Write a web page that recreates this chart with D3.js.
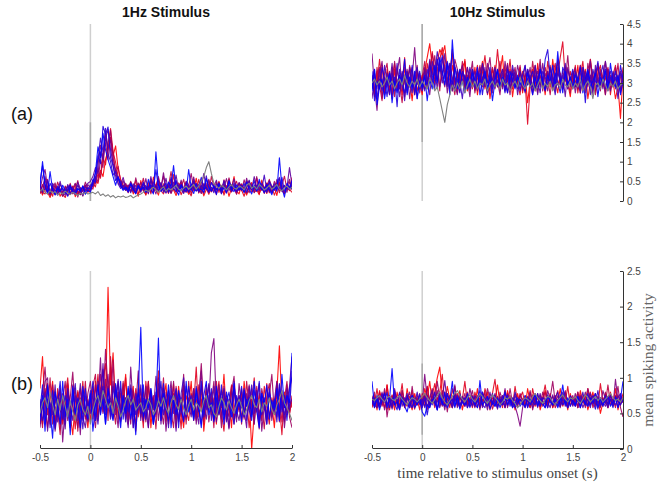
<!DOCTYPE html>
<html>
<body style="margin:0; background:#fff;">

<script src="https://d3js.org/d3.v7.min.js"></script>

<script>

const width = 657;
const height = 482;

const tStart = -0.5;
const tEnd = 2;
const xTicks = [-0.5, 0, 0.5, 1, 1.5, 2];
const yTicksTop = [0, 0.5, 1, 1.5, 2, 2.5, 3, 3.5, 4, 4.5];
const yTicksBottom = [0, 0.5, 1, 1.5, 2, 2.5];
const titles = ['1Hz Stimulus', '10Hz Stimulus'];
const rowLabels = ['(a)', '(b)'];
const xLabel = 'time relative to stimulus onset (s)';
const yLabel = 'mean spiking activity';

// 25 ms bins from -0.5 s to 2 s, one array per unit (red -> blue), plus the grey control trace

const a1Hz = [
  [.32,.15,.41,.22,.09,.28,.18,.35,.12,.24,.30,.14,.20,.38,.11,.26,.19,.33,.40,.22,
   .30,.38,.52,.45,.78,.62,1.05,1.30,1.62,1.15,1.40,.82,.55,.40,.33,.21,.45,.18,.30,.12,
   .52,.27,.16,.38,.22,.61,.30,.15,.42,.25,.33,.19,.55,.28,.14,.36,.48,.22,.31,.17,
   .40,.26,.58,.20,.34,.13,.29,.44,.23,.37,.16,.50,.27,.21,.39,.12,.33,.62,.25,.18,
   .41,.30,.15,.35,.47,.22,.28,.16,.53,.31,.19,.42,.24,.36,.14,.45,.29,.20,.38,.26,.60],
  [.45,.22,.18,.36,.27,.12,.40,.25,.31,.17,.09,.29,.35,.21,.44,.16,.26,.13,.30,.24,
   .28,.45,.36,.70,.58,1.10,.92,1.45,1.84,1.25,.98,.62,.44,.35,.27,.40,.24,.33,.52,.19,
   .28,.36,.15,.47,.30,.22,.39,.58,.26,.18,.34,.45,.21,.67,.29,.38,.16,.31,.49,.24,
   .13,.37,.28,.55,.20,.42,.31,.17,.35,.26,.48,.22,.39,.15,.30,.56,.24,.33,.19,.44,
   .28,.12,.36,.51,.23,.30,.40,.18,.34,.27,.46,.21,.37,.15,.32,.48,.26,.19,.41,.30,.22],
  [.18,.42,.26,.55,.14,.33,.22,.48,.30,.12,.38,.25,.45,.20,.31,.52,.16,.28,.40,.24,
   .36,.30,.55,.80,.62,1.20,1.48,1.05,1.62,1.25,.70,.88,.50,.36,.42,.28,.50,.33,.20,.44,
   .31,.58,.24,.40,.18,.49,.35,.62,.27,.44,.20,.38,.75,.30,.22,.46,.34,.55,.26,.39,
   .18,.47,.33,.25,.52,.29,.40,.21,.63,.35,.28,.45,.19,.54,.32,.41,.23,.37,.50,.26,
   .44,.30,.19,.48,.36,.25,.58,.31,.42,.22,.39,.55,.28,.34,.47,.21,.40,.63,.29,.35,.45],
  [.20,.38,.55,.24,.15,.33,.46,.19,.27,.12,.36,.22,.41,.18,.29,.10,.34,.25,.48,.31,
   .26,.40,.62,.48,1.05,.85,1.65,1.30,1.80,1.10,.75,.58,.40,.31,.45,.28,.36,.22,.59,.33,
   .47,.25,.38,.18,.52,.29,.41,.24,.35,.63,.27,.40,.19,.33,.51,.26,.44,.31,.22,.38,
   .70,.29,.45,.23,.36,.18,.42,.55,.27,.33,.20,.48,.31,.39,.24,.59,.28,.35,.17,.43,
   .26,.54,.32,.21,.40,.29,.62,.25,.37,.19,.44,.30,.23,.50,.34,.27,.41,.18,.36,.55,.28],
  [.28,.60,.80,.35,.22,.41,.17,.30,.25,.14,.27,.39,.19,.32,.45,.23,.16,.37,.26,.42,
   .33,.52,.45,.90,1.42,1.10,1.76,1.35,1.55,.90,.64,.47,.36,.52,.30,.41,.26,.38,.22,.46,
   .35,.29,.57,.24,.40,.33,.18,.44,.31,.72,.28,.39,.21,.48,.35,.26,.53,.30,.42,.23,
   .37,.61,.27,.33,.19,.45,.30,.52,.24,.38,.29,.46,.20,.35,.57,.26,.41,.32,.22,.47,
   .34,.25,.58,.30,.43,.21,.36,.49,.27,.32,.44,.23,.38,.29,.55,.31,.26,.40,.22,.48,.35],
  [.40,.20,.62,.30,.18,.45,.35,.25,.50,.22,.15,.42,.28,.36,.20,.48,.32,.24,.38,.45,
   .50,.62,.85,.70,1.25,1.05,1.58,1.82,1.30,.95,.80,.55,.42,.60,.35,.30,.48,.26,.40,.33,
   .22,.45,.38,.29,.62,.34,.27,.52,.40,.31,.58,.24,.43,.35,.66,.28,.37,.22,.50,.41,
   .30,.55,.26,.43,.35,.70,.32,.24,.47,.38,.53,.27,.36,.44,.22,.40,.33,.56,.29,.46,
   .37,.24,.50,.41,.29,.62,.35,.27,.45,.33,.25,.52,.38,.30,.44,.60,.28,.39,.34,.85,.40],
  [.38,.25,.30,.52,.20,.34,.27,.15,.43,.29,.22,.36,.18,.31,.24,.40,.28,.13,.35,.30,
   .41,.38,.72,1.05,1.60,1.25,1.85,1.20,1.00,.66,.75,.43,.32,.40,.27,.35,.21,.44,.30,.38,
   .25,.42,.33,.20,.55,.31,.38,.26,.47,.22,.36,.29,.60,.33,.24,.41,.30,.19,.45,.34,
   .27,.50,.36,.22,.39,.31,.64,.28,.35,.21,.43,.33,.26,.52,.30,.38,.24,.46,.31,.27,
   .40,.22,.35,.53,.29,.37,.24,.42,.31,.66,.27,.35,.20,.44,.30,.58,.25,.38,.33,.29,.42],
  [.50,.90,.35,.22,.45,.30,.18,.38,.26,.33,.20,.29,.41,.24,.17,.32,.27,.36,.21,.34,
   .30,.55,.48,1.15,.95,1.90,1.70,1.88,1.10,.90,.52,.60,.48,.30,.36,.25,.42,.33,.20,.37,
   .29,.48,.22,.35,.41,.27,.80,.33,.25,.38,.45,.21,.36,.30,.52,.24,.39,.28,.34,.22,
   .43,.31,.25,.37,.60,.28,.35,.22,.47,.33,.29,.41,.18,.36,.26,.50,.31,.39,.24,.34,
   .28,.45,.22,.37,.31,.52,.26,.40,.29,.35,.21,.48,.33,.27,.42,.30,.60,.25,.36,.38,.31],
  [.35,1.00,.42,.18,.75,.28,.15,.33,.22,.40,.27,.12,.36,.25,.19,.31,.24,.39,.17,.28,
   .22,.48,.72,1.38,1.10,1.72,1.30,1.05,.85,.62,.40,.62,.38,.27,.34,.22,.45,.30,.18,.40,
   .28,.35,.22,.55,.30,.18,1.25,.40,.25,.33,.21,.48,.36,.90,.29,.15,.42,.30,.24,.80,
   .33,.19,.44,.27,.31,.22,.57,.34,.25,.39,.16,.45,.28,.36,.20,.52,.31,.24,.41,.29,
   .35,.22,.48,.30,.18,.40,.27,.55,.33,.21,.42,.29,.16,.38,.25,1.10,.34,.10,.45,.30,.52]
];
const a1HzControl = [
  .25,.30,.22,.18,.26,.20,.24,.15,.22,.18,.25,.20,.16,.22,.19,.14,.20,.17,.22,.18,
  .20,.22,.18,.24,.14,.18,.12,.16,.10,.14,.08,.12,.10,.13,.09,.11,.14,.08,.12,.15,
  .18,.22,.28,.24,.30,.35,.28,.22,.30,.36,.25,.32,.28,.34,.40,.30,.26,.33,.38,.30,
  .35,.42,.30,.38,.50,.62,.85,1.00,.70,.45,.38,.32,.40,.35,.28,.36,.42,.33,.30,.38,
  .35,.28,.40,.45,.32,.38,.30,.42,.36,.28,.33,.40,.30,.35,.42,.30,.26,.34,.38,.30,.35
];

const a10Hz = [
  [3.10,2.65,3.30,2.90,3.45,2.75,3.05,3.20,2.60,3.35,2.85,3.15,2.70,3.40,2.95,3.10,2.55,3.25,2.80,3.05,
   2.70,3.30,3.65,4.00,3.40,2.95,3.55,3.85,3.70,3.95,3.30,2.85,3.45,3.10,2.75,3.35,3.00,3.60,2.80,3.20,
   2.95,3.40,2.70,3.15,3.55,2.85,3.30,2.60,3.10,3.45,2.90,3.25,3.70,2.80,3.05,3.35,2.65,3.15,2.95,3.40,
   2.75,3.20,2.50,3.05,3.35,2.80,3.50,2.95,3.15,2.70,3.30,2.90,3.60,3.05,2.75,3.25,2.85,3.40,3.00,2.65,
   3.20,2.90,3.45,2.75,3.10,3.35,2.60,3.05,3.25,2.80,3.50,2.95,3.15,2.70,3.30,2.85,3.05,2.60,2.90,2.10,3.20],
  [2.85,3.25,2.95,3.60,3.05,2.75,3.35,2.90,3.15,3.50,2.80,3.20,3.00,3.65,2.90,3.10,3.40,2.70,3.30,2.95,
   3.20,2.85,3.50,3.15,3.80,3.35,3.05,3.60,3.90,3.40,3.00,3.25,3.75,2.95,3.20,2.80,3.40,3.55,3.05,3.30,
   2.85,3.15,3.45,2.95,3.25,3.70,3.05,2.80,3.35,3.10,3.85,3.20,2.90,3.40,3.05,3.60,2.85,3.25,3.00,2.70,
   3.30,3.05,1.95,2.90,3.20,3.45,2.95,3.35,3.10,2.80,3.55,3.15,2.95,3.40,3.20,3.65,4.05,3.10,2.85,3.30,
   3.00,3.45,2.75,3.20,3.55,2.90,3.15,3.60,3.00,2.80,3.25,3.45,2.95,3.10,3.35,2.70,3.20,3.45,2.85,3.15,3.30],
  [3.05,2.70,3.40,2.95,2.55,3.25,3.50,2.80,3.15,2.65,3.35,3.00,2.50,3.20,2.85,3.45,3.10,2.75,3.30,2.90,
   3.15,3.55,2.90,3.35,3.75,3.10,3.40,2.80,3.65,3.25,2.95,3.50,3.05,2.70,3.30,3.00,3.55,2.85,3.20,2.95,
   3.35,2.80,3.10,3.45,2.90,3.20,2.70,3.05,3.40,2.85,3.15,3.55,2.95,3.25,2.75,3.10,3.35,2.90,3.05,3.45,
   2.80,3.15,3.30,2.90,3.55,3.05,2.75,3.20,2.95,3.40,3.10,2.70,3.25,3.50,2.95,3.15,2.85,3.35,3.05,2.75,
   3.30,3.05,2.85,3.45,3.00,3.20,2.90,3.60,3.10,2.70,3.05,3.35,2.90,3.15,3.40,2.95,3.25,3.00,3.50,2.80,3.40],
  [3.20,2.80,3.05,3.40,2.60,3.15,2.95,3.30,2.70,3.55,3.00,2.85,3.25,2.65,3.10,3.35,2.90,3.05,3.45,2.75,
   3.10,3.35,2.85,3.55,3.25,3.70,3.05,3.40,3.15,2.90,3.50,3.20,2.80,3.60,3.35,3.00,3.25,2.85,3.40,3.10,
   3.55,2.75,3.25,3.00,3.45,2.90,3.30,3.65,2.95,3.20,3.05,2.70,3.35,3.15,3.50,2.85,3.10,3.40,2.90,3.25,
   3.05,3.45,2.95,3.20,2.70,3.35,3.10,3.60,2.80,3.25,3.05,3.45,2.85,3.15,3.55,2.95,3.30,3.05,3.70,2.90,
   3.20,3.40,2.85,3.05,3.30,2.75,3.50,3.15,2.95,3.35,3.05,2.80,3.25,3.55,3.00,3.20,2.90,3.40,3.10,2.75,3.05],
  [3.75,2.90,2.30,3.20,3.55,2.85,3.10,2.70,3.40,2.95,3.25,3.65,2.80,3.05,3.35,2.60,3.15,3.90,2.95,3.25,
   2.85,3.40,3.10,2.70,3.30,3.05,3.60,2.90,3.20,3.45,2.75,3.15,3.85,3.00,2.70,3.25,3.45,2.95,3.10,2.65,
   3.30,3.05,2.80,3.40,3.15,2.90,3.50,3.20,2.75,3.35,3.00,3.25,2.85,3.55,3.10,2.70,3.30,2.95,3.45,3.15,
   2.85,3.25,3.05,3.40,2.75,3.10,3.30,2.90,3.50,3.05,2.80,3.35,3.15,2.95,3.60,3.20,2.85,3.10,3.40,2.95,
   3.25,2.75,3.15,3.45,2.90,3.30,3.05,3.55,2.80,3.20,3.40,2.95,3.15,2.70,3.35,3.05,3.25,2.85,3.10,3.30,2.95],
  [2.60,3.15,2.85,3.35,3.00,2.70,3.25,2.95,3.50,2.80,3.10,2.65,3.30,3.05,2.75,3.40,2.95,3.15,2.60,3.20,
   2.95,3.30,3.05,3.60,3.00,3.35,2.85,3.50,3.20,3.75,3.05,3.30,2.80,3.45,3.10,2.90,3.25,3.05,3.40,2.80,
   3.05,3.30,2.85,3.15,3.00,3.40,2.75,3.20,3.05,2.90,3.35,2.80,3.25,3.00,3.45,2.85,3.10,3.30,2.70,3.15,
   3.00,2.75,3.35,3.10,2.90,3.25,2.70,3.45,3.05,2.85,3.30,3.00,3.15,2.80,3.40,2.95,3.20,2.65,3.35,3.10,
   2.90,3.25,3.05,2.75,3.40,3.15,2.95,3.20,2.70,3.45,3.00,3.25,2.85,3.55,3.05,2.80,3.30,2.95,3.15,2.85,3.25],
  [2.95,3.35,2.60,3.10,2.80,3.45,3.00,2.70,3.25,2.90,3.50,2.85,3.15,2.55,3.30,3.05,2.75,3.20,3.40,2.85,
   3.05,2.80,3.35,3.00,3.55,3.20,3.80,3.45,3.00,3.25,2.90,3.50,3.15,2.80,3.35,3.05,2.60,3.20,2.95,3.40,
   3.10,2.85,3.30,2.95,3.50,3.15,2.75,3.25,3.05,3.40,2.90,3.15,3.35,2.80,3.20,2.95,3.45,3.10,2.85,3.30,
   3.05,2.80,3.35,3.10,2.90,3.45,3.05,2.75,3.30,3.15,2.95,3.40,3.05,2.70,3.25,3.10,2.95,3.50,2.85,3.15,
   2.95,3.30,3.10,2.80,3.40,3.00,3.25,2.70,3.35,3.05,2.90,3.20,3.45,2.85,3.10,3.30,2.95,3.15,2.60,3.25,3.05],
  [3.30,2.55,3.05,2.85,3.40,3.10,2.65,3.25,2.95,3.15,2.40,3.35,3.00,2.75,3.20,2.90,3.45,2.70,3.05,3.30,
   2.80,3.15,2.95,3.45,3.20,2.85,3.60,3.30,3.70,3.10,3.55,3.25,2.95,3.40,3.05,2.75,3.30,3.15,2.85,3.00,
   3.35,3.05,2.90,3.25,2.70,3.20,3.00,3.40,2.85,3.15,3.30,2.95,3.10,2.75,3.35,3.05,3.25,2.90,3.15,2.80,
   3.20,3.45,2.95,3.10,3.30,2.85,3.05,3.35,2.95,3.60,3.85,3.15,2.90,3.25,3.00,2.75,3.40,3.20,2.95,3.10,
   3.35,2.90,3.15,3.00,3.25,2.50,3.30,3.05,2.85,3.20,3.55,2.95,3.10,3.35,2.80,3.15,3.00,3.30,2.85,3.45,3.10],
  [2.80,3.35,2.45,2.90,3.10,2.60,3.00,3.25,2.50,3.05,2.75,3.20,2.95,3.60,2.70,3.15,2.85,3.30,2.60,3.05,
   2.90,3.20,2.55,3.10,2.85,3.45,3.00,3.65,3.30,2.95,3.50,2.70,4.10,3.20,2.85,3.35,3.05,2.75,3.15,2.90,
   3.25,2.95,3.40,2.70,3.10,3.30,2.85,3.15,2.55,3.05,3.35,2.90,3.15,3.00,2.75,3.30,3.05,2.85,3.20,2.95,
   3.10,2.80,3.25,3.00,2.70,3.15,2.90,3.35,3.05,2.80,3.20,3.00,3.45,2.90,3.80,3.10,2.75,3.30,2.95,3.15,
   2.85,3.20,3.00,3.40,2.75,3.10,3.35,2.90,3.05,3.25,2.65,3.15,3.00,3.30,2.85,3.50,3.05,2.90,3.20,2.70,3.05]
];
const a10HzControl = [
  3.00,3.10,2.95,3.05,2.90,3.00,3.15,2.95,3.05,2.85,3.00,3.10,2.95,3.20,3.00,2.90,3.05,2.95,3.10,2.90,
  3.05,2.95,2.85,3.10,3.00,2.80,2.90,2.60,2.30,2.00,2.45,2.70,2.95,2.80,3.00,2.85,3.05,2.75,2.95,3.10,
  2.90,3.05,2.85,3.00,2.95,3.10,2.80,2.95,3.05,2.90,3.00,2.85,3.10,2.95,3.00,2.80,2.95,3.05,2.90,3.15,
  2.95,2.85,3.05,2.90,3.00,2.80,2.95,3.10,2.85,3.00,2.90,3.05,2.80,2.95,3.00,2.85,3.10,2.95,2.90,3.05,
  2.85,3.00,2.90,3.10,2.80,2.95,3.05,2.90,2.60,2.95,3.00,2.85,3.10,2.95,2.80,3.00,2.90,3.05,2.85,2.95,3.00
];

const b1Hz = [
  [.85,1.30,.55,.30,.70,.95,.40,.62,.85,.35,.58,.90,.48,.20,.66,.80,.42,.75,.55,.30,
   .72,.50,.95,.40,.85,1.10,.65,2.27,.90,1.35,.55,.80,.45,.70,1.05,.38,.62,.88,.25,.70,
   .45,.80,.58,.95,.30,.72,.50,.85,.40,.68,.92,.35,.60,.78,.42,.88,.55,.30,.75,.62,
   .95,.40,.70,.55,.85,.25,.62,.90,.48,.72,.35,.80,.58,1.05,.45,.68,.30,.85,.52,.75,
   .40,.95,.60,.75,.00,.50,.82,.35,.70,.55,.92,.45,.65,.30,.80,1.45,.60,.38,.75,.50,.68],
  [.60,.35,.78,.92,.45,.68,.30,.85,.55,.40,.75,1.00,.50,.65,.28,.82,.58,.95,.42,.70,
   .38,.88,.62,1.05,.50,.95,1.20,.75,1.15,.55,.90,.42,.78,.60,1.00,.35,.70,.52,.85,.45,
   .72,.30,.95,.58,.80,.42,.68,1.10,.50,.85,.38,.75,.60,.92,.45,.70,.28,.88,.55,.40,
   .78,.62,1.15,.45,.70,.35,.90,.58,.80,.42,.68,.95,.50,.25,.75,.60,.88,.40,.72,.55,
   .85,.45,.70,.30,.65,1.00,.52,.78,.40,.88,.60,.35,.72,.55,.95,.62,.20,.80,.48,.70,.58],
  [.62,.30,.85,.48,1.00,.35,.70,.55,.20,.78,.45,.92,.38,.65,.85,.25,.72,.50,.95,.40,
   .60,.88,1.05,.45,.75,.52,.98,.40,1.30,.62,.35,.80,.55,.95,.42,.68,.85,.30,.72,.50,
   .85,.38,.62,.95,.45,.70,.28,.82,.58,1.00,.40,.75,.52,.30,.88,.62,.45,.78,.35,.95,
   .50,.70,.42,.90,.62,.38,.85,.55,.72,.30,.95,.48,.68,.82,.40,.60,.90,.35,.72,.52,
   .80,.42,.95,.58,.70,.35,.88,.50,.62,.28,.75,.92,.45,.68,.55,.82,.38,.70,.95,.48,.75],
  [.45,.80,1.15,.62,.35,.90,.52,.75,.28,.68,.95,.40,.72,1.08,.50,.30,.85,.60,.45,.78,
   .95,.55,.30,.70,1.05,.62,1.40,.85,.58,1.25,.48,.75,.40,.92,.55,.70,.35,.82,.60,1.10,
   .50,.68,.38,.88,.62,.75,.45,1.00,.58,.35,.80,.65,.48,.95,.30,.72,.55,1.05,.42,.68,
   .60,.85,.40,.72,1.20,.55,.82,.38,.65,.95,.50,.75,.30,.88,.58,.45,.80,1.02,.52,.70,
   .35,.78,.62,.90,.48,.70,.55,.28,.85,.65,.42,.75,1.05,.50,.68,.38,.82,.58,.90,.45,.30],
  [.30,.65,.95,1.00,.40,.72,.25,.55,.85,.10,.60,.78,.35,.90,.48,.70,.20,.82,.55,.38,
   .75,.42,.90,.60,1.28,.50,.80,1.05,.45,.95,.62,.30,.85,.55,.72,.40,1.15,.58,.35,.80,
   .65,.48,.88,.30,.75,.55,1.02,.40,.70,.85,.25,.65,.95,.50,.78,.38,.60,.90,.45,.72,
   .55,.85,.35,.70,1.10,.48,.80,.62,1.35,1.55,.58,.90,.42,.75,.55,.28,.82,.65,.38,.92,
   .60,.45,.78,.55,.85,.35,.70,.92,.25,.62,.50,.80,.40,.68,.95,.52,.75,.30,.65,.88,1.30],
  [.35,.58,.80,.25,.65,.48,.90,.38,.72,.55,.28,.82,.62,.40,.75,.55,.92,.45,.30,.68,
   .50,.78,.40,.95,.62,1.20,.48,.88,.70,.42,.65,.98,.38,.75,.55,.30,.90,.62,.48,.85,
   .40,.72,.55,.30,.85,.62,.48,.92,.35,.70,.58,.82,.42,.68,.25,.78,.55,.40,.88,.62,
   .45,.78,.55,.35,.90,.62,.42,.75,.52,.88,.38,.65,.82,.48,.70,.30,.62,.85,.55,.40,
   .72,.55,.30,.88,.48,.65,.82,.40,.70,.58,.35,.78,.62,.50,.92,.45,.68,.40,.85,.60,.70],
  [.70,.40,.55,.88,.30,.62,.80,.45,.72,.58,.35,.85,.50,.68,.92,.40,.60,.28,.75,.55,
   .82,.48,.65,.35,.78,1.12,.55,.70,.42,.88,.60,.95,.50,.72,.38,.85,.62,.45,.78,.55,
   .90,.40,.68,.55,.82,.35,.75,.60,.95,.48,.70,.30,.85,.58,.65,.42,.78,1.00,.50,.62,
   .75,.45,.88,.60,.35,.72,.55,.92,.40,.68,.80,.48,.62,.85,.38,.70,.55,.95,.45,.75,
   .58,.82,.40,.65,.90,.50,.72,.35,.78,.60,.45,.85,.55,.70,.38,.92,.62,.48,.75,.55,1.10],
  [.55,.90,.35,.70,.50,.82,.28,.65,.95,.42,.75,.58,.30,.88,.48,.72,.60,.40,.85,.52,
   .68,.95,.40,.75,.55,.88,.35,.70,.62,.48,.82,.58,.95,.42,.72,.52,.85,.30,.65,.78,
   .50,.90,.42,.70,.58,.35,.80,.62,.48,.92,.55,.40,.75,.65,.85,.30,.72,.58,.45,.88,
   .62,.40,.78,.52,.95,.45,.70,.60,.85,.38,.72,.50,.90,.42,.65,.80,.55,.35,.75,.60,
   .88,.45,.70,.55,.40,.82,.62,.95,.48,.72,.35,.80,.58,.68,.45,.90,.52,.75,.40,.85,1.00],
  [.40,.75,.25,.90,.55,.15,.80,.60,.35,.95,.45,.70,.20,.85,.50,.65,.30,.88,.58,.42,
   .78,.25,.62,.90,.48,.70,.35,.85,.55,.40,.92,.60,.30,.75,.50,.88,.42,.65,.20,.80,
   1.71,.45,.70,.58,.85,.35,.62,1.56,.40,.78,.55,.90,.30,.68,.48,.82,.60,.38,.95,.52,
   .70,.42,.85,.58,.30,.75,.95,.48,.65,.40,.88,.55,.72,.35,.80,.62,.45,.92,.50,.68,
   .38,.85,.60,.72,.45,.95,.55,.30,.78,.62,.90,.42,.68,.55,.85,.40,1.05,.58,.75,.65,1.35]
];
const b1HzControl = [
  .50,.65,.72,.58,.80,.62,.48,.70,.55,.75,.60,.45,.68,.52,.40,.62,.70,.55,.48,.60,
  .35,.55,.68,.75,.60,.82,.70,.58,.65,.50,.72,.60,.45,.55,.68,.75,.62,.70,.55,.60,
  .65,.52,.58,.70,.62,.48,.55,.68,.60,.72,.58,.50,.65,.75,.62,.55,.70,.58,.48,.62,
  .70,.55,.65,.60,.52,.68,.75,.58,.62,.50,.45,.60,.72,.65,.55,.68,.58,.50,.62,.70,
  .60,.48,.55,.68,.75,.62,.58,.70,.52,.65,.60,.72,.55,.48,.62,.70,.82,.65,.58,.50,.40
];

const b10Hz = [
  [.60,.75,.55,.82,.68,.58,.90,.65,.72,.55,.80,.62,.70,.58,.85,.66,.55,.78,.62,.70,
   .58,.85,.72,.95,.65,.80,1.00,1.15,.75,.62,.88,.70,.58,.78,.65,.82,.55,.72,.68,.60,
   .75,.62,.85,.58,.70,.65,.80,.55,.72,.68,.90,.62,.75,.58,.82,.66,.70,.55,.78,.62,
   .70,.58,.85,.65,.72,.60,.78,.55,.68,.82,.62,.75,.58,.70,.65,.85,.60,.72,.55,.78,
   .62,.70,.58,.82,.65,.75,.55,.68,.80,.60,.72,.50,.65,.78,.58,.70,.62,.85,.55,.72,.65],
  [.70,.62,.85,.58,.75,.66,.90,.55,.72,.80,.60,.68,.92,.58,.75,.65,.82,.60,.70,.55,
   .78,.65,.88,.60,.75,.92,.68,.80,1.05,.62,.72,.58,.85,.66,.78,.60,.70,.95,.64,.72,
   .58,.80,.66,.72,.60,.85,.70,.62,.78,.98,.65,.72,.58,.82,.68,.75,.60,.88,.65,.72,
   .80,.62,.70,.58,.85,.66,.75,.60,.72,.90,.64,.78,.58,.70,.82,.62,.75,.66,.88,.60,
   .72,.65,.80,.58,.75,.68,.85,.62,.70,.78,.60,.92,.66,.72,.58,.80,.64,.75,.68,.62,.78],
  [.58,.70,.64,.80,.60,.72,.55,.68,.76,.62,.70,.58,.82,.66,.60,.74,.68,.56,.72,.64,
   .70,.60,.88,.66,.74,.58,.72,.64,.82,.60,.70,.66,.58,.76,.62,.72,.68,.60,.80,.66,
   .62,.74,.58,.70,.66,.80,.60,.72,.56,.68,.74,.62,.70,.58,.78,.64,.70,.60,.66,.76,
   .70,.62,.68,.58,.76,.64,.72,.60,.70,.80,.62,.68,.74,.58,.66,.72,.62,.78,.60,.70,
   .64,.72,.58,.76,.66,.62,.70,.80,.58,.68,.74,.60,.72,.64,.90,.62,.70,.58,.76,.66,.72],
  [.65,.80,.58,.72,.62,.85,.45,.70,.60,.78,.66,.55,.82,.64,.72,.58,.88,.62,.75,.68,
   .62,.78,.55,.72,.85,.66,.95,.70,.60,.80,.52,.75,.66,.88,.60,.72,.65,.78,.58,.70,
   .82,.60,.72,.55,.78,.65,.85,.70,.62,.75,.58,.80,.68,.72,.60,.85,.64,.70,.58,.78,
   .65,.72,.60,.82,.55,.70,.75,.62,.80,.68,.58,.72,.95,.66,.75,.60,.70,.82,.58,.68,
   .75,.62,.80,.66,.72,.58,.85,.70,.62,.78,.66,.72,.60,.80,.68,.75,.62,.70,.88,.58,.45],
  [.75,.58,.70,.62,.80,.55,.72,.68,.60,.85,.65,.58,.75,.62,.70,.80,.58,.72,.66,.78,
   .62,1.05,.70,.58,.75,.65,.82,.60,.72,.55,.78,.68,.62,.90,.58,.75,.66,.70,.62,.85,
   .68,.58,.75,.62,.80,.70,.55,.72,.66,.78,.60,.70,.62,.85,.58,.72,.65,.60,.48,.32,
   .58,.72,.66,.80,.62,.70,.58,.75,.68,.62,.82,.70,.60,.75,.66,.58,.72,.80,.64,.70,
   .62,.78,.58,.72,.66,.80,.60,.70,.75,.62,.68,.58,.82,.70,.64,.75,.60,.98,.68,.62,.72],
  [.72,.62,.58,.75,.68,.80,.62,.70,.56,.74,.66,.80,.60,.72,.64,.58,.76,.68,.62,.70,
   .66,.74,.60,.70,.82,.62,.68,.58,.72,.96,.64,.70,.60,.78,.66,.58,.74,.62,.70,.66,
   .72,.60,.68,.76,.58,.70,.64,.80,.62,.68,.56,.74,.66,.60,.72,.68,.58,.76,.62,.70,
   .66,.60,.74,.68,.58,.72,.64,.78,.60,.70,.66,.58,.76,.62,.70,.64,.80,.60,.68,.72,
   .60,.70,.66,.74,.58,.68,.62,.78,.64,.70,.56,.72,.66,.60,.74,.68,.62,.70,.58,.76,.66],
  [.62,.72,.66,.58,.78,.70,.62,.75,.58,.82,.68,.60,.72,.66,.78,.58,.70,.64,.80,.62,
   .70,.58,.75,.62,.68,.72,.55,.80,.65,.60,.75,.70,.58,.72,.62,.78,.66,.60,.72,.68,
   .60,.75,.68,.82,.62,.58,.72,.66,.78,.60,.70,.64,.75,.58,.72,.68,.62,.80,.66,.70,
   .62,.75,.58,.70,.66,.78,.60,.72,.64,.58,.76,.68,.62,.72,.80,.60,.70,.65,.58,.75,
   .68,.60,.72,.66,.80,.62,.70,.58,.75,.64,.82,.60,.70,.66,.58,.75,.68,.62,.72,.78,.65],
  [.68,.58,.75,.62,.70,.66,.80,.58,.72,.64,.55,.78,.68,.60,.74,.66,.58,.70,.62,.76,
   .58,.72,.48,.68,.62,.80,.55,.72,.66,.60,.78,.64,.70,.58,.75,.62,.68,.72,.58,.66,
   .74,.62,.70,.58,.80,.66,.60,.72,.64,.75,.58,.70,.62,.68,.76,.60,.72,.58,.66,.70,
   .62,.75,.58,.70,.66,.62,.78,.60,.72,.68,.58,.74,.64,.70,.60,.76,.62,.68,.58,.72,
   .66,.60,.74,.58,.70,.64,.78,.62,.68,.56,.72,.66,.60,.75,.62,.70,.58,.74,.66,.62,.70],
  [.95,.60,.72,.55,.68,.78,.58,.70,1.13,.62,.66,.55,.72,.60,.52,.68,.75,.58,.64,.70,
   .52,.46,.62,.58,.70,.66,.55,.74,.62,.80,.58,.68,.95,.60,.72,.56,.66,.62,.78,.58,
   .70,.64,.58,.96,.62,.68,.74,.56,.66,.60,.72,.58,.68,.80,.62,.70,.58,.64,.72,.60,
   .66,.58,.72,.62,.68,.76,.60,.70,.64,.58,.74,.66,.62,.70,.58,.68,.90,.62,.72,.60,
   .68,.62,.74,.58,.70,.64,.60,.72,.66,.78,.58,.70,.62,.68,.74,.60,.66,.72,.58,.70,.95]
];
const b10HzControl = [
  .70,.68,.72,.75,.70,.66,.72,.74,.70,.68,.72,.75,.70,.66,.62,.68,.72,.70,.66,.70,
  .74,.78,.72,.68,.64,.70,.75,.80,.72,.66,.62,.68,.74,.78,.82,.75,.70,.66,.72,.76,
  .70,.66,.72,.78,.74,.68,.64,.70,.76,.72,.68,.62,.66,.72,.70,.74,.68,.64,.58,.62,
  .68,.72,.70,.66,.74,.78,.72,.68,.64,.70,.74,.72,.66,.62,.68,.72,.76,.70,.66,.72,
  .70,.74,.68,.64,.70,.76,.72,.66,.70,.74,.68,.72,.66,.70,.74,.78,.72,.68,.70,.66,.72
];

// ---------------------------------------------------------------

const svg = d3.select('body')
              .append('svg')
              .attr('width', width)
              .attr('height', height)
              .style('font-family', '"Liberation Sans", Arial, Helvetica, sans-serif');

const cols = [{ x0: 40, x1: 292 }, { x0: 372, x1: 623 }];
const rows = [
  { top: 24, bottom: 201, ymax: 4.5, ticks: yTicksTop },
  { top: 271, bottom: 449, ymax: 2.5, ticks: yTicksBottom }
];

const panels = [
  { r: 0, c: 0, units: a1Hz,  control: a1HzControl,  dark: [0, 2] },
  { r: 0, c: 1, units: a10Hz, control: a10HzControl, dark: [1.5, 4.5] },
  { r: 1, c: 0, units: b1Hz,  control: b1HzControl,  dark: null },
  { r: 1, c: 1, units: b10Hz, control: b10HzControl, dark: [0.2, 1.2] }
];

const unitColors = d3.quantize(d3.interpolateRgb('red', 'blue'), a1Hz.length);

panels.forEach((p, k) => {
  const col = cols[p.c];
  const row = rows[p.r];

  const x = d3.scaleLinear().domain([tStart, tEnd]).range([col.x0, col.x1]);
  const y = d3.scaleLinear().domain([0, row.ymax]).range([row.bottom, row.top]);

  const g = svg.append('g');

  const clipId = 'clip' + k;
  svg.append('clipPath').attr('id', clipId)
    .append('rect')
      .attr('x', col.x0).attr('y', row.top)
      .attr('width', col.x1 - col.x0).attr('height', row.bottom - row.top);

  // stimulus onset
  g.append('line')
    .attr('x1', x(0)).attr('x2', x(0))
    .attr('y1', y(0)).attr('y2', y(row.ymax))
    .attr('stroke', '#cfcfcf')
    .attr('stroke-width', 1.5);
  if (p.dark) {
    g.append('line')
      .attr('x1', x(0)).attr('x2', x(0))
      .attr('y1', y(p.dark[0])).attr('y2', y(p.dark[1]))
      .attr('stroke', '#aaaaaa')
      .attr('stroke-width', 1.5);
  }

  const lineFor = vals => d3.line()
    .x((d, i) => x(tStart + (tEnd - tStart) * i / (vals.length - 1)))
    .y(d => y(d))(vals);

  const lines = g.append('g').attr('clip-path', `url(#${clipId})`);

  lines.selectAll('path.unit')
    .data(p.units)
    .enter()
    .append('path')
      .attr('class', 'unit')
      .attr('d', lineFor)
      .attr('fill', 'none')
      .attr('stroke', (d, i) => unitColors[i])
      .attr('stroke-width', 1.1)
      .attr('stroke-opacity', 0.9)
      .attr('stroke-linejoin', 'round');

  lines.append('path')
    .attr('d', lineFor(p.control))
    .attr('fill', 'none')
    .attr('stroke', '#808080')
    .attr('stroke-width', 1.1)
    .attr('stroke-linejoin', 'round');

  // right-hand y axis
  if (p.c === 1) {
    const ax = svg.append('g')
      .attr('transform', `translate(${col.x1},0)`)
      .call(d3.axisRight(y).tickValues(row.ticks).tickSizeInner(-3).tickSizeOuter(0)
              .tickPadding(4).tickFormat(d => String(d)));
    ax.select('.domain').attr('stroke', '#333');
    ax.selectAll('.tick line').attr('stroke', '#333');
    ax.selectAll('text').attr('fill', '#444').style('font-size', '10px');
  }

  // bottom x axis
  if (p.r === 1) {
    const ax = svg.append('g')
      .attr('transform', `translate(0,${row.bottom - 1})`)
      .call(d3.axisBottom(x).tickValues(xTicks).tickSizeInner(-3).tickSizeOuter(0)
              .tickPadding(6).tickFormat(d => String(d)));
    ax.select('.domain').attr('stroke', '#333');
    ax.selectAll('.tick line').attr('stroke', '#333');
    ax.selectAll('text').attr('fill', '#444').style('font-size', '10px');
  }
});

// column titles
titles.forEach((t, c) => {
  svg.append('text')
    .attr('x', (cols[c].x0 + cols[c].x1) / 2)
    .attr('y', 17)
    .attr('text-anchor', 'middle')
    .style('font-size', '14px')
    .style('font-weight', 'bold')
    .attr('fill', '#111')
    .text(t);
});

// row labels
rowLabels.forEach((t, r) => {
  svg.append('text')
    .attr('x', 11)
    .attr('y', r === 0 ? 120 : 390)
    .style('font-size', '18px')
    .attr('fill', '#111')
    .text(t);
});

// axis titles
svg.append('text')
  .attr('x', (cols[1].x0 + cols[1].x1) / 2)
  .attr('y', 478)
  .attr('text-anchor', 'middle')
  .style('font-family', '"Liberation Serif", "Times New Roman", serif')
  .style('font-size', '15px')
  .attr('fill', '#444')
  .text(xLabel);

svg.append('text')
  .attr('transform', `translate(653,${(rows[1].top + rows[1].bottom) / 2}) rotate(-90)`)
  .attr('text-anchor', 'middle')
  .style('font-family', '"Liberation Serif", "Times New Roman", serif')
  .style('font-size', '15.5px')
  .attr('fill', '#666')
  .text(yLabel);

</script>
</body>
</html>
